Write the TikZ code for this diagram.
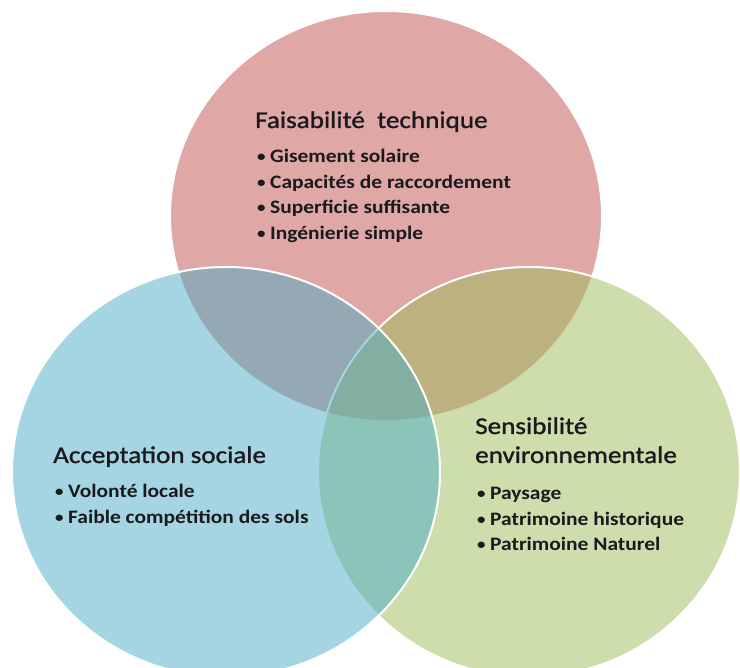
\documentclass[tikz,border=0pt]{standalone}
\usepackage{fontspec}
\setmainfont{Carlito}[FakeStretch=1.13]
\usepackage{tikz}
\usetikzlibrary{positioning}

\definecolor{techred}{RGB}{192,80,77}
\definecolor{socblue}{RGB}{75,172,198}
\definecolor{envgreen}{RGB}{155,187,89}
\definecolor{ink}{RGB}{25,25,30}

% small bullet in front of each item
\newcommand{\bul}{{\fontsize{15}{15}\selectfont\raisebox{0.15ex}{•}}\hspace{4.5pt}}

\begin{document}
\begin{tikzpicture}[x=1pt, y=1pt, node distance=25.5pt, on grid,
  venn/.style={draw=white, line width=2pt, fill opacity=0.5},
  head/.style={inner sep=0pt, text=ink, font=\fontsize{24}{28}\selectfont\addfontfeature{FakeBold=1.2}},
  item/.style={inner sep=0pt, text=ink, font=\fontsize{19}{23}\selectfont\bfseries}]
  \useasboundingbox (0,0) rectangle (740,668);
  \begin{scope}
    \clip (0,0) rectangle (740,668);
    \draw[venn, fill=techred] (386,452) ellipse [x radius=216pt, y radius=205pt];
    \draw[venn, fill=envgreen] (529,196) ellipse [x radius=211pt, y radius=205pt];
    \draw[venn, fill=socblue] (226,196) ellipse [x radius=214pt, y radius=205pt];
  \end{scope}

  % faisabilite
  \node[head, anchor=base west] (tech) at (255,540) {Faisabilité\ \ technique};
  \node[item, anchor=base west] (tech1) at (257,505) {\bul Gisement solaire};
  \node[item] (tech2) [below=of tech1.base west, anchor=base west] {\bul Capacités de raccordement};
  \node[item] (tech3) [below=of tech2.base west, anchor=base west] {\bul Superficie suffisante};
  \node[item] (tech4) [below=of tech3.base west, anchor=base west] {\bul Ingénierie simple};

  % acceptation
  \node[head, anchor=base west] (soc) at (53,205) {Acceptation sociale};
  \node[item, anchor=base west] (soc1) at (55,170) {\bul Volonté locale};
  \node[item] (soc2) [below=of soc1.base west, anchor=base west] {\bul Faible compétition des sols};

  % sensibilite
  \node[head, anchor=base west] (env) at (475,234) {Sensibilité};
  \node[head] (envb) [below=29pt of env.base west, anchor=base west] {environnementale};
  \node[item, anchor=base west] (env1) at (477,168) {\bul Paysage};
  \node[item] (env2) [below=of env1.base west, anchor=base west] {\bul Patrimoine historique};
  \node[item] (env3) [below=of env2.base west, anchor=base west] {\bul Patrimoine Naturel};
\end{tikzpicture}
\end{document}
